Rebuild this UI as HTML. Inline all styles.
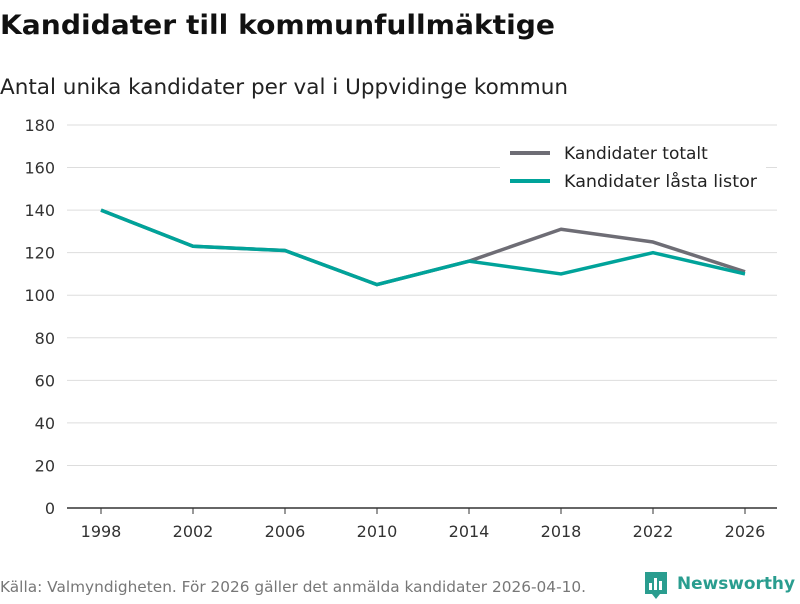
<!DOCTYPE html>
<html><head><meta charset="utf-8"><style>
body{margin:0;background:#fff;width:800px;height:600px;overflow:hidden;font-family:"DejaVu Sans","Liberation Sans",sans-serif}
</style></head><body>
<svg width="800" height="600" xmlns="http://www.w3.org/2000/svg" font-family="DejaVu Sans, Liberation Sans, sans-serif">
<text x="0" y="34" font-size="27" font-weight="bold" fill="#111" textLength="555" lengthAdjust="spacingAndGlyphs">Kandidater till kommunfullmäktige</text>
<text x="0" y="94" font-size="21" fill="#222" textLength="568" lengthAdjust="spacingAndGlyphs">Antal unika kandidater per val i Uppvidinge kommun</text>
<g id="grid"></g><g id="xaxis"></g><g id="series"></g>
<g>
<rect x="500" y="138" width="266" height="60" fill="#fff"/>
<line x1="510" y1="153" x2="550" y2="153" stroke="#6e6d75" stroke-width="4"/>
<text x="564" y="159" font-size="17" fill="#222">Kandidater totalt</text>
<line x1="510" y1="181" x2="550" y2="181" stroke="#00a39a" stroke-width="4"/>
<text x="564" y="187" font-size="17" fill="#222" textLength="193" lengthAdjust="spacingAndGlyphs">Kandidater låsta listor</text>
</g>
<text x="0" y="592" font-size="15" fill="#777" textLength="586" lengthAdjust="spacingAndGlyphs">Källa: Valmyndigheten. För 2026 gäller det anmälda kandidater 2026-04-10.</text>
<g>
<path d="M645 572h22v22h-7l-4 5-4-5h-7z" fill="#2a9d8f"/>
<rect x="649" y="583" width="3" height="7" fill="#fff"/><rect x="654" y="578" width="3" height="12" fill="#fff"/><rect x="659" y="581" width="3" height="9" fill="#fff"/>
<text x="677" y="589" font-size="17" font-weight="bold" fill="#2a9d8f" textLength="118" lengthAdjust="spacingAndGlyphs">Newsworthy</text>
</g>
</svg>
<script>
const years=[1998,2002,2006,2010,2014,2018,2022,2026];
const totalt=[140,123,121,105,116,131,125,111];
const lasta=[140,123,121,105,116,110,120,110];
const yTicks=[0,20,40,60,80,100,120,140,160,180];
const NS="http://www.w3.org/2000/svg";
const x=v=>101+(v-1998)*(644/28);
const y=v=>508-v*(383/180);
const mk=(t,a,p)=>{const e=document.createElementNS(NS,t);for(const k in a)e.setAttribute(k,a[k]);p.appendChild(e);return e;};
const grid=document.getElementById('grid'),xa=document.getElementById('xaxis'),se=document.getElementById('series');
yTicks.forEach(v=>{
 const l=mk('line',{x1:67,x2:777,y1:y(v),y2:y(v),stroke:v===0?'#333':'#ddd','stroke-width':v===0?1.5:1},grid);
 
 
 const t=mk('text',{x:55,y:y(v)+6,'text-anchor':'end','font-size':16,fill:'#333'},grid);t.textContent=v;
 
 
});
years.forEach(v=>{
 const l=mk('line',{x1:x(v),x2:x(v),y1:508,y2:514,stroke:'#333'},xa);
 
 
 const t=mk('text',{x:x(v),y:537,'text-anchor':'middle','font-size':16,fill:'#333'},xa);t.textContent=v;
 
 
});
[[totalt,'#6e6d75','line-totalt'],[lasta,'#00a39a','line-lasta']].forEach(([d,c,n])=>{
 const p=mk('polyline',{points:d.map((v,i)=>x(years[i])+','+y(v)).join(' '),fill:'none',stroke:c,'stroke-width':3.5,'stroke-linejoin':'round'},se);
 
 
});
</script>
</body></html>
